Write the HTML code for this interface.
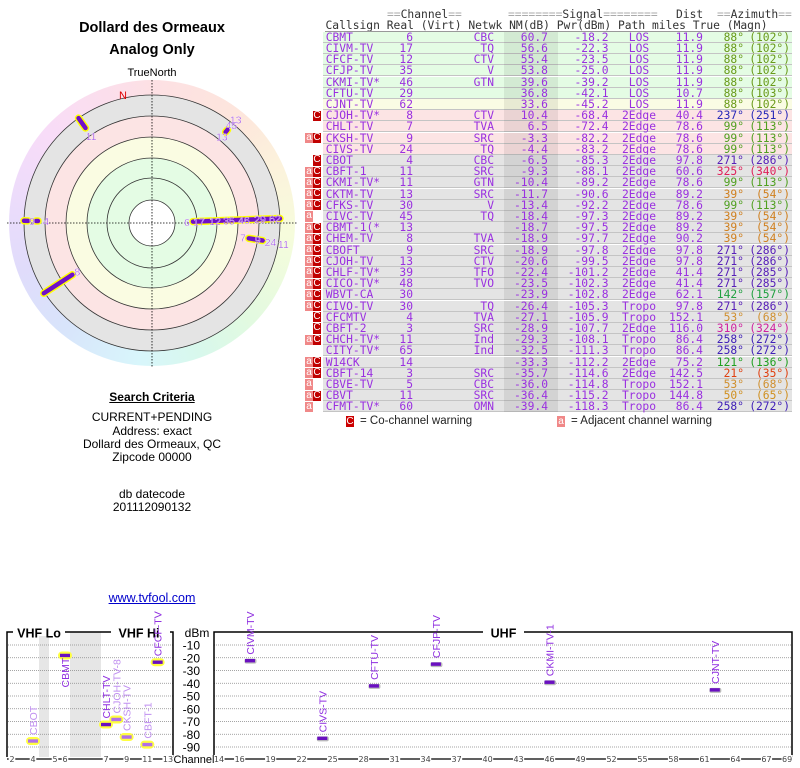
<!DOCTYPE html>
<html><head><meta charset="utf-8">
<style>
body{margin:0;width:800px;height:768px;background:#fff;position:relative;overflow:hidden;font-family:"Liberation Sans",sans-serif}
.a{position:absolute;white-space:nowrap}
.mono{font-family:"DejaVu Sans Mono","Liberation Mono",monospace;font-size:11.3px;line-height:11px}
.hd{color:#333}
.eq{color:#aaa}
.ctr{text-align:center;font-size:12px;color:#000;width:304px;left:0}
</style></head><body>
<div class="a" style="left:0;width:304px;text-align:center;top:20px;font-weight:bold;font-size:14.5px">Dollard des Ormeaux</div>
<div class="a" style="left:0;width:304px;text-align:center;top:42px;font-weight:bold;font-size:14.5px">Analog Only</div>
<div class="a" style="left:0;width:304px;text-align:center;top:67px;font-size:11px">TrueNorth</div>
<div class="a" style="left:9px;top:80px;width:286px;height:286px;border-radius:50%;background:conic-gradient(#fde0e4 0deg,#fde6dc 40deg,#fcf2dc 65deg,#f6fcdc 95deg,#e2fae0 135deg,#d8f8ec 160deg,#d8f6fb 185deg,#d8e4fb 220deg,#e0dcfb 250deg,#ecdcfb 280deg,#f8dcf8 310deg,#fde0e4 360deg)"></div>
<svg class="a" style="left:0;top:0" width="304" height="380">
<g id="polar"></g>
</svg>
<div class="a" style="left:0;width:304px;text-align:center;top:390px;font-weight:bold;font-size:12px;text-decoration:underline">Search Criteria</div>
<div class="a ctr" style="top:410px">CURRENT+PENDING</div>
<div class="a ctr" style="top:424px">Address: exact</div>
<div class="a ctr" style="top:437px">Dollard des Ormeaux, QC</div>
<div class="a ctr" style="top:450px">Zipcode 00000</div>
<div class="a ctr" style="top:487px">db datecode</div>
<div class="a ctr" style="top:500px">201112090132</div>
<div class="a ctr" style="top:591px;color:#00c;text-decoration:underline;font-size:12.5px">www.tvfool.com</div>

<div id="table"></div>
<div class="a mono hd" style="left:387px;top:9px"><span class="eq">==</span>Channel<span class="eq">==</span></div>
<div class="a mono hd" style="left:508px;top:9px"><span class="eq">========</span>Signal<span class="eq">========</span></div>
<div class="a mono hd" style="left:676px;top:9px">Dist</div>
<div class="a mono hd" style="left:717px;top:9px"><span class="eq">==</span>Azimuth<span class="eq">==</span></div>
<div class="a mono hd" style="left:325.5px;top:20px">Callsign Real (Virt) Netwk  NM(dB) Pwr(dBm)  Path  miles True (Magn)</div>
<div class="a" style="left:325px;top:31px;width:467px;height:1px;background:#999"></div>

<div class="a" style="left:346px;top:416px;width:8px;height:11px;background:#c00;color:#fff;font-size:10px;text-align:center;line-height:11px">C</div>
<div class="a" style="left:360px;top:415px;font-size:11.5px;color:#222">= Co-channel warning</div>
<div class="a" style="left:557px;top:416px;width:8px;height:11px;background:#f08888;color:#fff;font-size:10px;text-align:center;line-height:11px">a</div>
<div class="a" style="left:571px;top:415px;font-size:11.5px;color:#222">= Adjacent channel warning</div>

<svg class="a" style="left:0;top:600px" width="800" height="168">
<g id="bc" transform="translate(0,-600)"></g>
</svg>

<script>
// ===== table data =====
var callsigns=["CBMT","CIVM-TV","CFCF-TV","CFJP-TV","CKMI-TV*","CFTU-TV","CJNT-TV","CJOH-TV*","CHLT-TV","CKSH-TV","CIVS-TV","CBOT","CBFT-1","CKMI-TV*","CKTM-TV","CFKS-TV","CIVC-TV","CBMT-1(*","CHEM-TV","CBOFT","CJOH-TV","CHLF-TV*","CICO-TV*","WBVT-CA","CIVO-TV","CFCMTV","CBFT-2","CHCH-TV*","CITY-TV*","W14CK","CBFT-14","CBVE-TV","CBVT","CFMT-TV*"];
var realCh=[6,17,12,35,46,29,62,8,7,9,24,4,11,11,13,30,45,13,8,9,13,39,48,30,30,4,3,11,65,14,3,5,11,60];
var netwk=["CBC","TQ","CTV","V","GTN","","","CTV","TVA","SRC","TQ","CBC","SRC","GTN","SRC","V","TQ","","TVA","SRC","CTV","TFO","TVO","","TQ","TVA","SRC","Ind","Ind","","SRC","CBC","SRC","OMN"];
var nmDb=["60.7","56.6","55.4","53.8","39.6","36.8","33.6","10.4","6.5","-3.3","-4.4","-6.5","-9.3","-10.4","-11.7","-13.4","-18.4","-18.7","-18.9","-18.9","-20.6","-22.4","-23.5","-23.9","-26.4","-27.1","-28.9","-29.3","-32.5","-33.3","-35.7","-36.0","-36.4","-39.4"];
var pwrDbm=["-18.2","-22.3","-23.5","-25.0","-39.2","-42.1","-45.2","-68.4","-72.4","-82.2","-83.2","-85.3","-88.1","-89.2","-90.6","-92.2","-97.3","-97.5","-97.7","-97.8","-99.5","-101.2","-102.3","-102.8","-105.3","-105.9","-107.7","-108.1","-111.3","-112.2","-114.6","-114.8","-115.2","-118.3"];
var paths=["LOS","LOS","LOS","LOS","LOS","LOS","LOS","2Edge","2Edge","2Edge","2Edge","2Edge","2Edge","2Edge","2Edge","2Edge","2Edge","2Edge","2Edge","2Edge","2Edge","2Edge","2Edge","2Edge","Tropo","Tropo","2Edge","Tropo","Tropo","2Edge","2Edge","Tropo","Tropo","Tropo"];
var dist=["11.9","11.9","11.9","11.9","11.9","10.7","11.9","40.4","78.6","78.6","78.6","97.8","60.6","78.6","89.2","78.6","89.2","89.2","90.2","97.8","97.8","41.4","41.4","62.1","97.8","152.1","116.0","86.4","86.4","75.2","142.5","152.1","144.8","86.4"];
var trueAz=[88,88,88,88,88,88,88,237,99,99,99,271,325,99,39,99,39,39,39,271,271,271,271,142,271,53,310,258,258,121,21,53,50,258];
var magAz=[102,102,102,102,102,103,102,251,113,113,113,286,340,113,54,113,54,54,54,286,286,285,285,157,286,68,324,272,272,136,35,68,65,272];
var warn=["","","","","","","","C","","aC","","C","aC","aC","aC","aC","a","aC","aC","aC","aC","aC","aC","aC","aC","C","C","aC","","aC","aC","a","aC","a"];
var azColors={88:"#6a9a1a",237:"#2828b8",99:"#50a020",271:"#5820b8",325:"#e0205a",39:"#d08020",142:"#20a040",53:"#d09030",310:"#d020a0",258:"#4020b8",121:"#20a020",21:"#e04010",50:"#d09020"};
function rowBg(i){ if(i<6) return "#e4fce4"; if(i==6) return "#fafce4"; if(i<11) return "#fce4e4"; return "#e4e4e4"; }
var T=document.getElementById('table');
function txt(parent,s,left,right,center,color,top){
  var d=document.createElement('div');d.className='a mono';
  d.textContent=s;d.style.top=top+'px';d.style.color=color;
  if(center!==null){d.style.left=(center-40)+'px';d.style.width='80px';d.style.textAlign='center';}
  else if(right!==null){d.style.left=(right-80)+'px';d.style.width='80px';d.style.textAlign='right';}
  else d.style.left=left+'px';
  parent.appendChild(d);return d;
}
var RH=11.2,R0=31.7,PUR="#9a30e0";
for(var i=0;i<callsigns.length;i++){
  var y=R0+i*RH;
  var r=document.createElement('div');r.className='a';
  r.style.cssText='left:323px;width:469px;top:'+y+'px;height:'+(RH-1)+'px;background:'+rowBg(i)+';border-bottom:1px solid #c4c4c4';
  
  
  T.appendChild(r);
  var sh=document.createElement('div');sh.className='a';
  sh.style.cssText='left:504px;width:54px;top:'+y+'px;height:'+RH+'px;background:rgba(0,0,0,0.07)';
  
  
  T.appendChild(sh);
  var ty=y;
  var e;
  e=txt(T,callsigns[i],325.7,null,null,PUR,ty);
  
  
  e=txt(T,String(realCh[i]),null,413,null,PUR,ty);
  
  
  e=txt(T,netwk[i],null,494,null,PUR,ty);
  
  
  e=txt(T,nmDb[i],null,548,null,PUR,ty);
  
  
  e=txt(T,pwrDbm[i],null,608.5,null,PUR,ty);
  
  
  e=txt(T,paths[i],null,null,639,PUR,ty);
  
  
  e=txt(T,dist[i],null,703,null,PUR,ty);
  
  
  var c=azColors[trueAz[i]]||PUR;
  e=txt(T,trueAz[i]+"°",null,744,null,c,ty);
  
  
  e=txt(T,"("+magAz[i]+"°)",null,790,null,c,ty);
  
  
  var w=warn[i];
  if(w.indexOf('a')>=0){var b=document.createElement('div');b.className='a';
    b.style.cssText='left:305px;top:'+(y+0.5)+'px;width:8px;height:'+(RH-1)+'px;background:#f08888;color:#fff;font-size:10px;line-height:10px;text-align:center';b.textContent='a';
    
    
    T.appendChild(b);}
  if(w.indexOf('C')>=0){var b2=document.createElement('div');b2.className='a';
    b2.style.cssText='left:313px;top:'+(y+0.5)+'px;width:8px;height:'+(RH-1)+'px;background:#c00000;color:#fff;font-size:10px;line-height:10px;text-align:center';b2.textContent='C';
    
    
    T.appendChild(b2);}
}

// ===== polar chart =====
var NS="http://www.w3.org/2000/svg";
var CX=152,CY=223;
var ringRadii=[128,107,86,65,45];
var ringFills=["#e4e4e4","#fce4e4","#fafce2","#e4fce4","#e4fce4"];
var markAz=[325,39,271,271,88,99,237];
var markR1=[116,117,124,114,41,98,95];
var markR2=[128,120,128,116,128,112,129];
var markDark=[1,1,1,1,1,1,1];
var labAz=[325,39,39,39,271,271,88,88,88,88,88,88,88,99,99,99,99,237];
var labR=[106,133,126,111,120,106,35,47,63,77,92,108,123,92,107,120,133,89];
var labText=["11","13","45","13","9","4","6","17","12","35","46","29","62","7","9","24","11","8"];
function pol(az,r){var a=az*Math.PI/180;return [CX+r*Math.sin(a),CY-r*Math.cos(a)];}
var P=document.getElementById('polar');
function mk(tag,attrs,parent){var e=document.createElementNS(NS,tag);for(var k in attrs)e.setAttribute(k,attrs[k]);(parent||P).appendChild(e);return e;}
for(var k=0;k<ringRadii.length;k++){
  var cc=mk('circle',{cx:CX,cy:CY,r:ringRadii[k],fill:ringFills[k],stroke:'#333','stroke-width':0.8});
  
  
}
var inner=mk('circle',{cx:CX,cy:CY,r:23,fill:'#fff',stroke:'#333','stroke-width':0.8});


var hl=mk('line',{x1:7,y1:CY,x2:297,y2:CY,stroke:'#000','stroke-width':0.8,'stroke-dasharray':'1.5,1.5'});


var vl=mk('line',{x1:CX,y1:80,x2:CX,y2:367,stroke:'#000','stroke-width':0.8,'stroke-dasharray':'1.5,1.5'});


var nl=mk('text',{x:123,y:99,fill:'#d00','font-size':11,'text-anchor':'middle','font-family':'Liberation Sans, sans-serif'});nl.textContent='N';


for(var m=0;m<markAz.length;m++){
  var p1=pol(markAz[m],markR1[m]),p2=pol(markAz[m],markR2[m]);
  var g1=mk('line',{x1:p1[0],y1:p1[1],x2:p2[0],y2:p2[1],stroke:'#ffff00','stroke-width':7.5,'stroke-linecap':'round'});
  
  
  var g2=mk('line',{x1:p1[0],y1:p1[1],x2:p2[0],y2:p2[1],stroke:'#7010c8','stroke-width':4.5,'stroke-linecap':'round'});
  
  
}
for(var l=0;l<labAz.length;l++){
  var pp=pol(labAz[l],labR[l]);
  var t=mk('text',{x:pp[0],y:pp[1]+4,fill:'#8a28e0','font-size':10.5,'text-anchor':'middle','font-family':'Liberation Sans, sans-serif',stroke:'#fff','stroke-width':0.3});
  t.textContent=labText[l];
  
  
}

// ===== bottom channel chart =====
var bcCallsigns=["CBOT","CBMT","CHLT-TV","CJOH-TV-8","CKSH-TV","CBFT-1","CFCF-TV","CIVM-TV","CIVS-TV","CFTU-TV","CFJP-TV","CKMI-TV-1","CJNT-TV"];
var bcChannels=[4,6,7,8,9,11,12,17,24,29,35,46,62];
var bcPower=[-85.3,-18.2,-72.4,-68.4,-82.2,-88.1,-23.5,-22.3,-83.2,-42.1,-25.0,-39.2,-45.2];
var bcStrong=[0,1,1,0,0,0,1,1,1,1,1,1,1];
var bcBelow=[0,1,0,0,0,0,0,0,0,0,0,0,0];
var dbTicks=[-10,-20,-30,-40,-50,-60,-70,-80,-90];
var vhfTickCh=[2,4,5,6,7,9,11,13];
var uhfTickCh=[14,16,19,22,25,28,31,34,37,40,43,46,49,52,55,58,61,64,67,69];
function yOf(v){return 632.25-v*1.275;}
function xOf(ch){
  if(ch<=4) return 12+(ch-2)*10.5;
  if(ch<=6) return 55+(ch-5)*10;
  if(ch<=13) return 106+(ch-7)*10.33;
  return 219+(ch-14)*10.33;
}
var B=document.getElementById('bc');
function bk(tag,attrs){return mk(tag,attrs,B);}
var gr1=bk('rect',{x:39,y:632,width:10,height:125,fill:'#e6e6e6'});


var gr2=bk('rect',{x:70,y:632,width:31,height:125,fill:'#e6e6e6'});


for(var d=0;d<dbTicks.length;d++){
  var yy=yOf(dbTicks[d]);
  var gl1=bk('line',{x1:8,y1:yy,x2:173,y2:yy,stroke:'#888','stroke-width':0.8,'stroke-dasharray':'1,1'});
  
  
  var gl2=bk('line',{x1:214,y1:yy,x2:792,y2:yy,stroke:'#888','stroke-width':0.8,'stroke-dasharray':'1,1'});
  
  
  var tl=bk('text',{x:200,y:yy+4.5,'text-anchor':'end','font-size':12,fill:'#000','font-family':'Liberation Sans, sans-serif'});
  tl.textContent=String(dbTicks[d]);
  
  
}
var dbm=bk('text',{x:197,y:637,'text-anchor':'middle','font-size':12,fill:'#000','font-family':'Liberation Sans, sans-serif'});dbm.textContent='dBm';


// boxes
var bx1=bk('path',{d:'M7,757 L7,632 L173,632 L173,757',fill:'none',stroke:'#000','stroke-width':1.5});


var bx2=bk('path',{d:'M214,757 L214,632 L792,632 L792,757',fill:'none',stroke:'#000','stroke-width':1.5});


var titles=[["VHF Lo",13,65,39],["VHF Hi",111,170,139],["UHF",483,524,503.5]];
for(var q=0;q<titles.length;q++){
  var tr=bk('rect',{x:titles[q][1],y:628,width:titles[q][2]-titles[q][1],height:8,fill:'#fff'});
  
  
  var tt=bk('text',{x:titles[q][3],y:637.5,'text-anchor':'middle','font-size':12.5,'font-weight':'bold',fill:'#000','font-family':'Liberation Sans, sans-serif'});
  tt.textContent=titles[q][0];
  
  
}
// channel axis
var ax1=bk('line',{x1:7,y1:759,x2:173,y2:759,stroke:'#000','stroke-width':1.2});


var ax2=bk('line',{x1:214,y1:759,x2:792,y2:759,stroke:'#000','stroke-width':1.2});


var allTicks=vhfTickCh.concat(uhfTickCh);
for(var a=0;a<allTicks.length;a++){
  var xx=xOf(allTicks[a]);
  var s=String(allTicks[a]);
  var wdt=s.length*4.6+2;
  var bgr=bk('rect',{x:xx-wdt/2,y:755,width:wdt,height:8,fill:'#fff'});
  
  
  var xt=bk('text',{x:xx,y:762,'text-anchor':'middle','font-size':8,fill:'#444','font-family':'DejaVu Sans, sans-serif'});
  xt.textContent=s;
  
  
}
var chr=bk('rect',{x:175,y:753,width:38,height:10,fill:'#fff'});


var cht=bk('text',{x:194,y:763,'text-anchor':'middle','font-size':11,fill:'#000','font-family':'Liberation Sans, sans-serif'});cht.textContent='Channel';


// station markers
for(var n=0;n<bcCallsigns.length;n++){
  var cx=xOf(bcChannels[n]),cy=yOf(bcPower[n]);
  var vhf=bcChannels[n]<=13;
  var mcol=bcStrong[n]?'#6a10c0':'#b070e8';
  var lcol=bcStrong[n]?'#9030e0':'#c090f0';
  if(vhf){var hal=bk('rect',{x:cx-7,y:cy-4,width:14,height:8,rx:4,fill:'#ffff40'});
    
    }
  else {var shd=bk('rect',{x:cx-5.5,y:cy-2,width:12,height:5,rx:2,fill:'#bbb'});
    
    }
  var mr=bk('rect',{x:cx-5,y:cy-1.7,width:10,height:3.4,fill:mcol});
  
  
  var ly=bcBelow[n]?cy+32:cy-6;
  var lab=bk('text',{x:0,y:0,'font-size':10.5,fill:lcol,'font-family':'Liberation Sans, sans-serif',transform:'translate('+(cx+4)+','+ly+') rotate(-90)'});
  if(bcBelow[n]) lab.setAttribute('text-anchor','start');
  lab.textContent=bcCallsigns[n];
  
  
}
</script>
</body></html>
